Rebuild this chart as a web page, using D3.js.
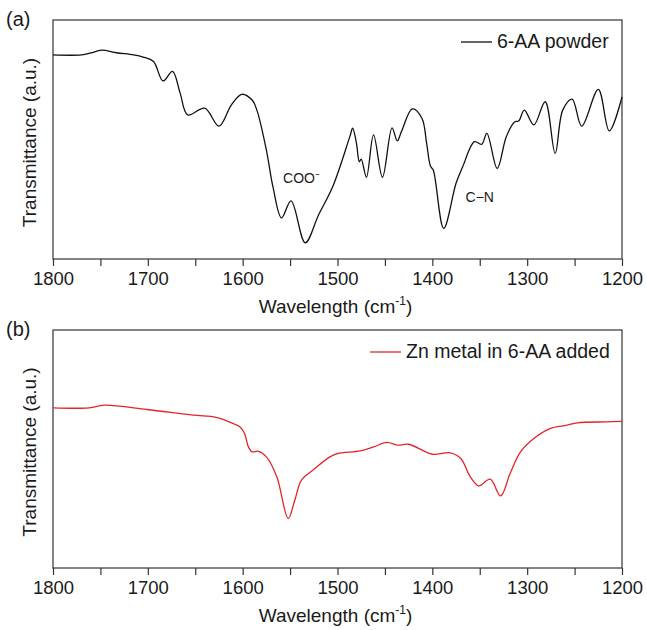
<!DOCTYPE html>
<html>
<head>
<meta charset="utf-8">
<script src="https://cdn.jsdelivr.net/npm/d3@7"></script>
<style>
  body { margin: 0; background: #fff; }
  text { font-family: Arial, "Liberation Sans", sans-serif; fill: #1a1a1a; }
  .frame { fill: none; stroke: #333; stroke-width: 1.2; }
  .axis path { display: none; }
  .axis line { stroke: #333; stroke-width: 1.2; }
  .spectrum { fill: none; stroke-width: 1.3; }
</style>
</head>
<body>
<div id="chart"></div>
<script>
// Wavenumber axis (cm-1), shared by both panels
const xTicks = [1800, 1750, 1700, 1650, 1600, 1550, 1500, 1450, 1400, 1350, 1300, 1250, 1200]

// (a) 6-AA powder — [wavenumber, transmittance (a.u.)]
const powderWave = [1800, 1770, 1760, 1749, 1733, 1715, 1705, 1694, 1684, 1674, 1666, 1658, 1640, 1625, 1612, 1601, 1590, 1585, 1575, 1568, 1559, 1549, 1534, 1520, 1505, 1487, 1484, 1480, 1477, 1475, 1469.5, 1462, 1452.6, 1442.5, 1437, 1432.6, 1421, 1411, 1406, 1402, 1399, 1388, 1375, 1368, 1355.5, 1348, 1342.5, 1331.6, 1322, 1313, 1309, 1303, 1293, 1281, 1270.5, 1262.5, 1252.6, 1242.5, 1225, 1213.4, 1200]
const powderT = [85.4, 85.4, 86.2, 87.4, 86.3, 85.4, 84.5, 82.6, 74.5, 78.5, 69.5, 60.3, 63.1, 55.6, 64.4, 68.9, 66.5, 62.3, 45.6, 30.1, 17.2, 24.3, 6.8, 18.4, 30.3, 51.2, 54.7, 48.4, 40.7, 41.8, 34.2, 51.9, 34.2, 54.9, 49.4, 53.3, 62.8, 58.9, 48.4, 38.9, 37.2, 12.8, 31.7, 38.6, 49.1, 48.0, 52.6, 37.9, 51.2, 57.4, 57.7, 62.3, 56.1, 65.8, 44.2, 62.3, 66.9, 55.6, 71.0, 53.6, 67.8]

// (b) Zn metal in 6-AA added
const znWave = [1800, 1762, 1746, 1701, 1652, 1628, 1610, 1603, 1598, 1594, 1590, 1584, 1575, 1564, 1552, 1545, 1538, 1526, 1508, 1500, 1476, 1462, 1448, 1436, 1425, 1400, 1381, 1370, 1360, 1351, 1339, 1328, 1318, 1307, 1293, 1276, 1258, 1247, 1216, 1200]
const znT = [67.3, 67.3, 68.4, 66.6, 64.2, 63.3, 60.7, 59.3, 56.5, 50.9, 48.8, 49.1, 46.7, 38.3, 20.8, 28.5, 36.9, 41.1, 46.7, 48.1, 49.2, 50.9, 52.8, 51.6, 52.0, 47.8, 48.4, 46.0, 38.3, 34.5, 37.3, 30.3, 39.7, 48.8, 54.4, 58.6, 60.0, 61.0, 61.4, 61.6]

const width = 647
const height = 630

const svg = d3.select('#chart')
  .append('svg')
  .attr('width', width)
  .attr('height', height)

const xScale = d3.scaleLinear().domain([1800, 1200])

function drawPanel(opts) {
  const { top, bottom, left, right, wave, trans, color, label, legend, legendX, notes } = opts
  const x = xScale.copy().range([left, right])
  const y = d3.scaleLinear().domain([0, 100]).range([bottom, top])
  const data = wave.map((w, i) => ({ w, t: trans[i] }))

  // Plot frame
  svg.append('rect')
    .attr('class', 'frame')
    .attr('x', left).attr('y', top)
    .attr('width', right - left).attr('height', bottom - top)

  // Bottom axis, outward ticks every 50, labels every 100
  const axis = svg.append('g')
    .attr('class', 'axis')
    .attr('transform', `translate(0, ${bottom})`)
    .call(
      d3.axisBottom(x)
        .tickValues(xTicks)
        .tickSize(7)
        .tickSizeOuter(0)
        .tickFormat(d => d % 100 === 0 ? d : '')
    )
  axis.selectAll('text')
    .attr('y', 13)
    .style('font-size', '18.5px')
    .style('font-family', 'Arial, "Liberation Sans", sans-serif')
    .attr('fill', '#1a1a1a')

  // X title
  const title = svg.append('text')
    .attr('x', (left + right) / 2 - 2)
    .attr('y', bottom + 54)
    .attr('text-anchor', 'middle')
    .style('font-size', '19px')
  title.append('tspan').text('Wavelength (cm')
  title.append('tspan').text('-1').attr('dy', -8).style('font-size', '12px')
  title.append('tspan').text(')').attr('dy', 8)

  // Y title
  svg.append('text')
    .attr('transform', `translate(36, ${(top + bottom) / 2 + 3}) rotate(-90)`)
    .attr('text-anchor', 'middle')
    .style('font-size', '19px')
    .text('Transmittance (a.u.)')

  // Panel letter
  svg.append('text')
    .attr('x', 6)
    .attr('y', top + 6)
    .style('font-size', '20px')
    .text(label)

  // Spectrum
  const line = d3.line()
    .x(d => x(d.w))
    .y(d => y(d.t))
    .curve(d3.curveCatmullRom.alpha(0.5))

  svg.append('path')
    .datum(data)
    .attr('class', 'spectrum')
    .attr('stroke', color)
    .attr('d', line)

  // Legend
  svg.append('line')
    .attr('x1', legendX).attr('x2', legendX + 31)
    .attr('y1', top + 22).attr('y2', top + 22)
    .attr('stroke', color)
    .attr('stroke-width', 1.3)
  svg.append('text')
    .attr('x', legendX + 36)
    .attr('y', top + 28)
    .style('font-size', '19.5px')
    .text(legend)

  // Band annotations
  notes.forEach(n => {
    svg.append('text')
      .attr('x', x(n.w))
      .attr('y', y(n.t))
      .attr('text-anchor', 'middle')
      .style('font-size', '14px')
      .text(n.text)
  })
}

drawPanel({
  top: 20, bottom: 259, left: 53, right: 622,
  wave: powderWave, trans: powderT,
  color: '#111',
  label: '(a)',
  legend: '6-AA powder',
  legendX: 461,
  notes: [
    { w: 1538, t: 32, text: 'COO⁻' },
    { w: 1350, t: 24, text: 'C−N' }
  ]
})

drawPanel({
  top: 330, bottom: 568, left: 53, right: 622,
  wave: znWave, trans: znT,
  color: '#e3242b',
  label: '(b)',
  legend: 'Zn metal in 6-AA added',
  legendX: 370,
  notes: []
})
</script>
</body>
</html>
